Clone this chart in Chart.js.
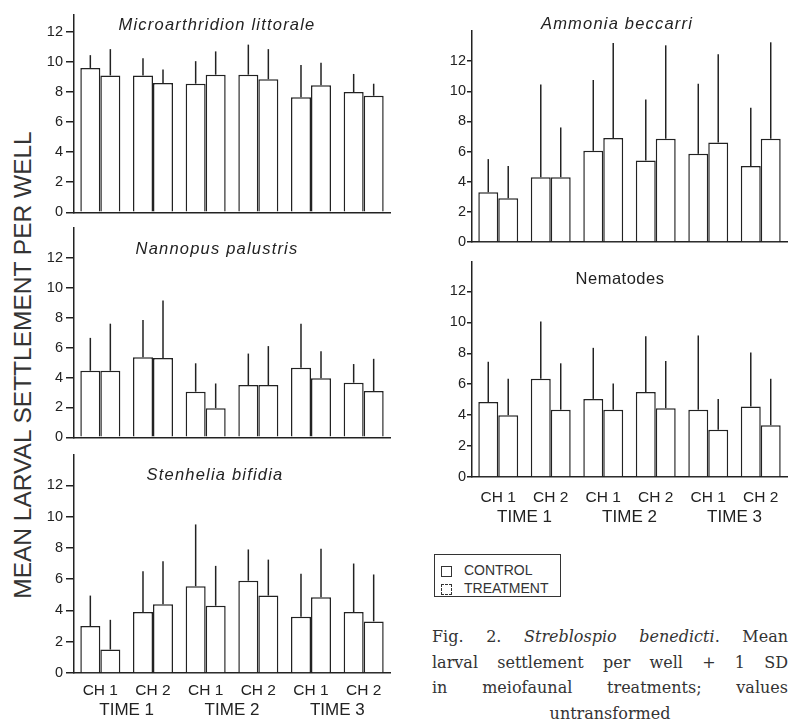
<!DOCTYPE html>
<html>
<head>
<meta charset="utf-8">
<script src="https://cdn.jsdelivr.net/npm/chart.js@4.4.0/dist/chart.umd.min.js"></script>
<style>
  body { margin: 0; background: #fff; width: 795px; height: 720px; position: relative; overflow: hidden;
         font-family: "Liberation Sans", Arial, sans-serif; color: #222; }
  canvas { position: absolute; }
  .ytitle { position: absolute; left: 23px; top: 365px; transform: translate(-50%, -50%) rotate(-90deg);
            white-space: nowrap; font-size: 24.5px; color: #333; }
  .legend { position: absolute; left: 434px; top: 554px; width: 127px; height: 43px; border: 1.5px solid #333;
            box-sizing: border-box; font-size: 14px; color: #333; }
  .legend div { position: absolute; left: 6px; height: 14px; line-height: 14px; }
  .legend span { display: inline-block; width: 11px; height: 11px; border: 1.3px solid #333; vertical-align: -2px;
                 margin-right: 12px; box-sizing: border-box; }
  .legend span.dash { border-style: dashed; }
  .caption { position: absolute; left: 432px; top: 624px; width: 356px; font-family: "DejaVu Serif", serif;
             font-size: 16px; color: #333; line-height: 25.5px; }
  .caption div { text-align: justify; text-align-last: justify; white-space: nowrap; }
  .caption div.last { text-align-last: center; }
</style>
</head>
<body>
<div class="ytitle">MEAN LARVAL SETTLEMENT PER WELL</div>
<canvas id="p1"></canvas>
<canvas id="p2"></canvas>
<canvas id="p3"></canvas>
<canvas id="p4"></canvas>
<canvas id="p5"></canvas>
<div class="legend">
  <div style="top:8px"><span></span>CONTROL</div>
  <div style="top:26px"><span class="dash"></span>TREATMENT</div>
</div>
<div class="caption">
  <div>Fig. 2. <i>Streblospio benedicti</i>. Mean</div>
  <div>larval settlement per well + 1 SD</div>
  <div>in meiofaunal treatments; values</div>
  <div class="last">untransformed</div>
</div>
<script>
// categories: channel within each time
const chLabels = ['CH 1', 'CH 2', 'CH 1', 'CH 2', 'CH 1', 'CH 2'];
const timeLabels = ['TIME 1', 'TIME 2', 'TIME 3'];
const yTicks = [0, 2, 4, 6, 8, 10, 12];

// Microarthridion littorale
const microControl = [9.6, 9.1, 8.55, 9.15, 7.65, 8.0];
const microControlSD = [0.85, 1.15, 1.5, 2.0, 2.15, 1.2];
const microTreat = [9.1, 8.6, 9.15, 8.85, 8.45, 7.75];
const microTreatSD = [1.75, 0.9, 1.55, 2.0, 1.5, 0.8];

// Nannopus palustris
const nannoControl = [4.45, 5.35, 3.05, 3.5, 4.65, 3.65];
const nannoControlSD = [2.2, 2.5, 1.9, 2.1, 2.95, 1.25];
const nannoTreat = [4.45, 5.3, 1.95, 3.5, 3.95, 3.1];
const nannoTreatSD = [3.15, 3.85, 1.65, 2.6, 1.8, 2.15];

// Stenhelia bifidia
const stenControl = [3.0, 3.9, 5.55, 5.9, 3.6, 3.9];
const stenControlSD = [1.95, 2.6, 3.95, 2.0, 2.75, 3.1];
const stenTreat = [1.5, 4.4, 4.3, 4.95, 4.85, 3.3];
const stenTreatSD = [1.9, 2.75, 2.55, 2.3, 3.1, 3.0];

// Ammonia beccarri
const ammoControl = [3.3, 4.3, 6.05, 5.4, 5.85, 5.05];
const ammoControlSD = [2.2, 6.15, 4.7, 4.05, 4.65, 3.85];
const ammoTreat = [2.9, 4.3, 6.9, 6.85, 6.6, 6.85];
const ammoTreatSD = [2.15, 3.3, 6.3, 6.2, 5.85, 6.4];

// Nematodes
const nemaControl = [4.85, 6.35, 5.05, 5.5, 4.35, 4.55];
const nemaControlSD = [2.6, 3.7, 3.3, 3.6, 4.8, 3.5];
const nemaTreat = [4.0, 4.35, 4.35, 4.45, 3.05, 3.35];
const nemaTreatSD = [2.35, 3.0, 1.7, 3.05, 2.0, 3.0];

const INK = '#222';

// vertical +1 SD line from the top of each bar
const errorBars = {
  id: 'errorBars',
  afterDatasetsDraw(chart) {
    const ctx = chart.ctx;
    const y = chart.scales.y;
    ctx.save();
    ctx.strokeStyle = INK;
    ctx.lineWidth = 1.5;
    chart.data.datasets.forEach((ds, i) => {
      chart.getDatasetMeta(i).data.forEach((bar, j) => {
        const top = y.getPixelForValue(ds.data[j] + ds.sd[j]);
        ctx.beginPath();
        ctx.moveTo(bar.x, bar.y);
        ctx.lineTo(bar.x, top);
        ctx.stroke();
      });
    });
    ctx.restore();
  }
};

// species name inside the plot
const panelTitle = {
  id: 'panelTitle',
  afterDraw(chart, args, opts) {
    const { ctx, chartArea } = chart;
    ctx.save();
    ctx.font = opts.font;
    ctx.fillStyle = INK;
    ctx.textAlign = 'center';
    ctx.textBaseline = 'middle';
    ctx.letterSpacing = opts.spacing || '0px';
    ctx.fillText(opts.text, chartArea.left + opts.dx, chartArea.top + opts.dy);
    ctx.restore();
  }
};

function makePanel(p) {
  const padTop = 28, padRight = 6, yWidth = 36;
  const chPad = p.chPad || 8, chHeight = chPad + 19;
  const bottomSpace = p.labels ? chHeight + 25 : 10;
  const canvas = document.getElementById(p.id);
  const left = p.left - yWidth, top = p.top - padTop;
  const w = p.right + padRight - left, h = p.bottom + bottomSpace - top;
  canvas.style.left = left + 'px';
  canvas.style.top = top + 'px';
  canvas.width = w; canvas.height = h;
  canvas.style.width = w + 'px'; canvas.style.height = h + 'px';

  const barStyle = {
    backgroundColor: '#fff',
    borderColor: INK,
    borderWidth: 1.5,
    categoryPercentage: 0.76,
    barPercentage: 1.0
  };

  new Chart(canvas, {
    type: 'bar',
    data: {
      labels: chLabels,
      datasets: [
        { label: 'CONTROL', data: p.control, sd: p.controlSD, ...barStyle },
        { label: 'TREATMENT', data: p.treat, sd: p.treatSD, ...barStyle }
      ]
    },
    options: {
      responsive: false,
      animation: false,
      layout: { padding: { top: padTop, right: padRight, left: 0, bottom: 0 } },
      plugins: {
        legend: { display: false },
        tooltip: { enabled: false },
        panelTitle: { text: p.title, font: p.titleFont, dx: p.titleX - p.left, dy: p.titleY - p.top, spacing: p.spacing }
      },
      scales: {
        y: {
          min: 0,
          max: p.max,
          afterBuildTicks: s => { s.ticks = yTicks.map(v => ({ value: v })); },
          afterFit: s => { s.width = yWidth; },
          ticks: { color: INK, padding: p.tickPad, font: { family: 'Liberation Sans', size: 14.5 } },
          grid: { drawOnChartArea: false, tickLength: p.tickLen, color: INK, lineWidth: 1.5 },
          border: { color: INK, width: 1.5 }
        },
        x: {
          grid: { display: false, drawTicks: false, tickLength: 0 },
          border: { color: INK, width: 1.5 },
          afterFit: s => { s.height = p.labels ? chHeight : bottomSpace; },
          ticks: { display: !!p.labels, color: INK, padding: chPad, maxRotation: 0, autoSkip: false,
                   font: { family: 'Liberation Sans', size: 15.5 } }
        },
        x2: {
          type: 'category',
          labels: timeLabels,
          position: 'bottom',
          offset: true,
          weight: 1,
          display: !!p.labels,
          grid: { display: false, drawTicks: false, tickLength: 0 },
          border: { display: false },
          afterFit: s => { s.height = p.labels ? 23 : 0; },
          ticks: { color: INK, padding: 0, maxRotation: 0, font: { family: 'Liberation Sans', size: 17 } }
        }
      }
    },
    plugins: [errorBars, panelTitle]
  });
}

const italic = 'italic 16.5px "Liberation Sans"';

makePanel({ id: 'p1', left: 74, right: 390, top: 15, bottom: 214, max: 13.12, tickLen: 8, tickPad: 3,
  title: 'Microarthridion littorale', titleFont: italic, spacing: '1.2px', titleX: 217, titleY: 25,
  control: microControl, controlSD: microControlSD, treat: microTreat, treatSD: microTreatSD });
makePanel({ id: 'p2', left: 74, right: 390, top: 228, bottom: 439, max: 14.0, tickLen: 8, tickPad: 3,
  title: 'Nannopus palustris', titleFont: italic, spacing: '1.2px', titleX: 217, titleY: 249,
  control: nannoControl, controlSD: nannoControlSD, treat: nannoTreat, treatSD: nannoTreatSD });
makePanel({ id: 'p3', left: 74, right: 390, top: 455, bottom: 671, max: 13.94, tickLen: 8, tickPad: 3, labels: true,
  chPad: 8, title: 'Stenhelia bifidia', titleFont: italic, spacing: '1.2px', titleX: 215, titleY: 475,
  control: stenControl, controlSD: stenControlSD, treat: stenTreat, treatSD: stenTreatSD });
makePanel({ id: 'p4', left: 472, right: 787, top: 31, bottom: 242, max: 14.0, tickLen: 5, tickPad: 1,
  title: 'Ammonia beccarri', titleFont: italic, spacing: '1.2px', titleX: 617, titleY: 24,
  control: ammoControl, controlSD: ammoControlSD, treat: ammoTreat, treatSD: ammoTreatSD });
makePanel({ id: 'p5', left: 472, right: 787, top: 262, bottom: 475, max: 13.9, tickLen: 5, tickPad: 1, labels: true,
  chPad: 11, title: 'Nematodes', titleFont: '16.5px "Liberation Sans"', spacing: '0.5px', titleX: 620, titleY: 279,
  control: nemaControl, controlSD: nemaControlSD, treat: nemaTreat, treatSD: nemaTreatSD });
</script>
</body>
</html>
